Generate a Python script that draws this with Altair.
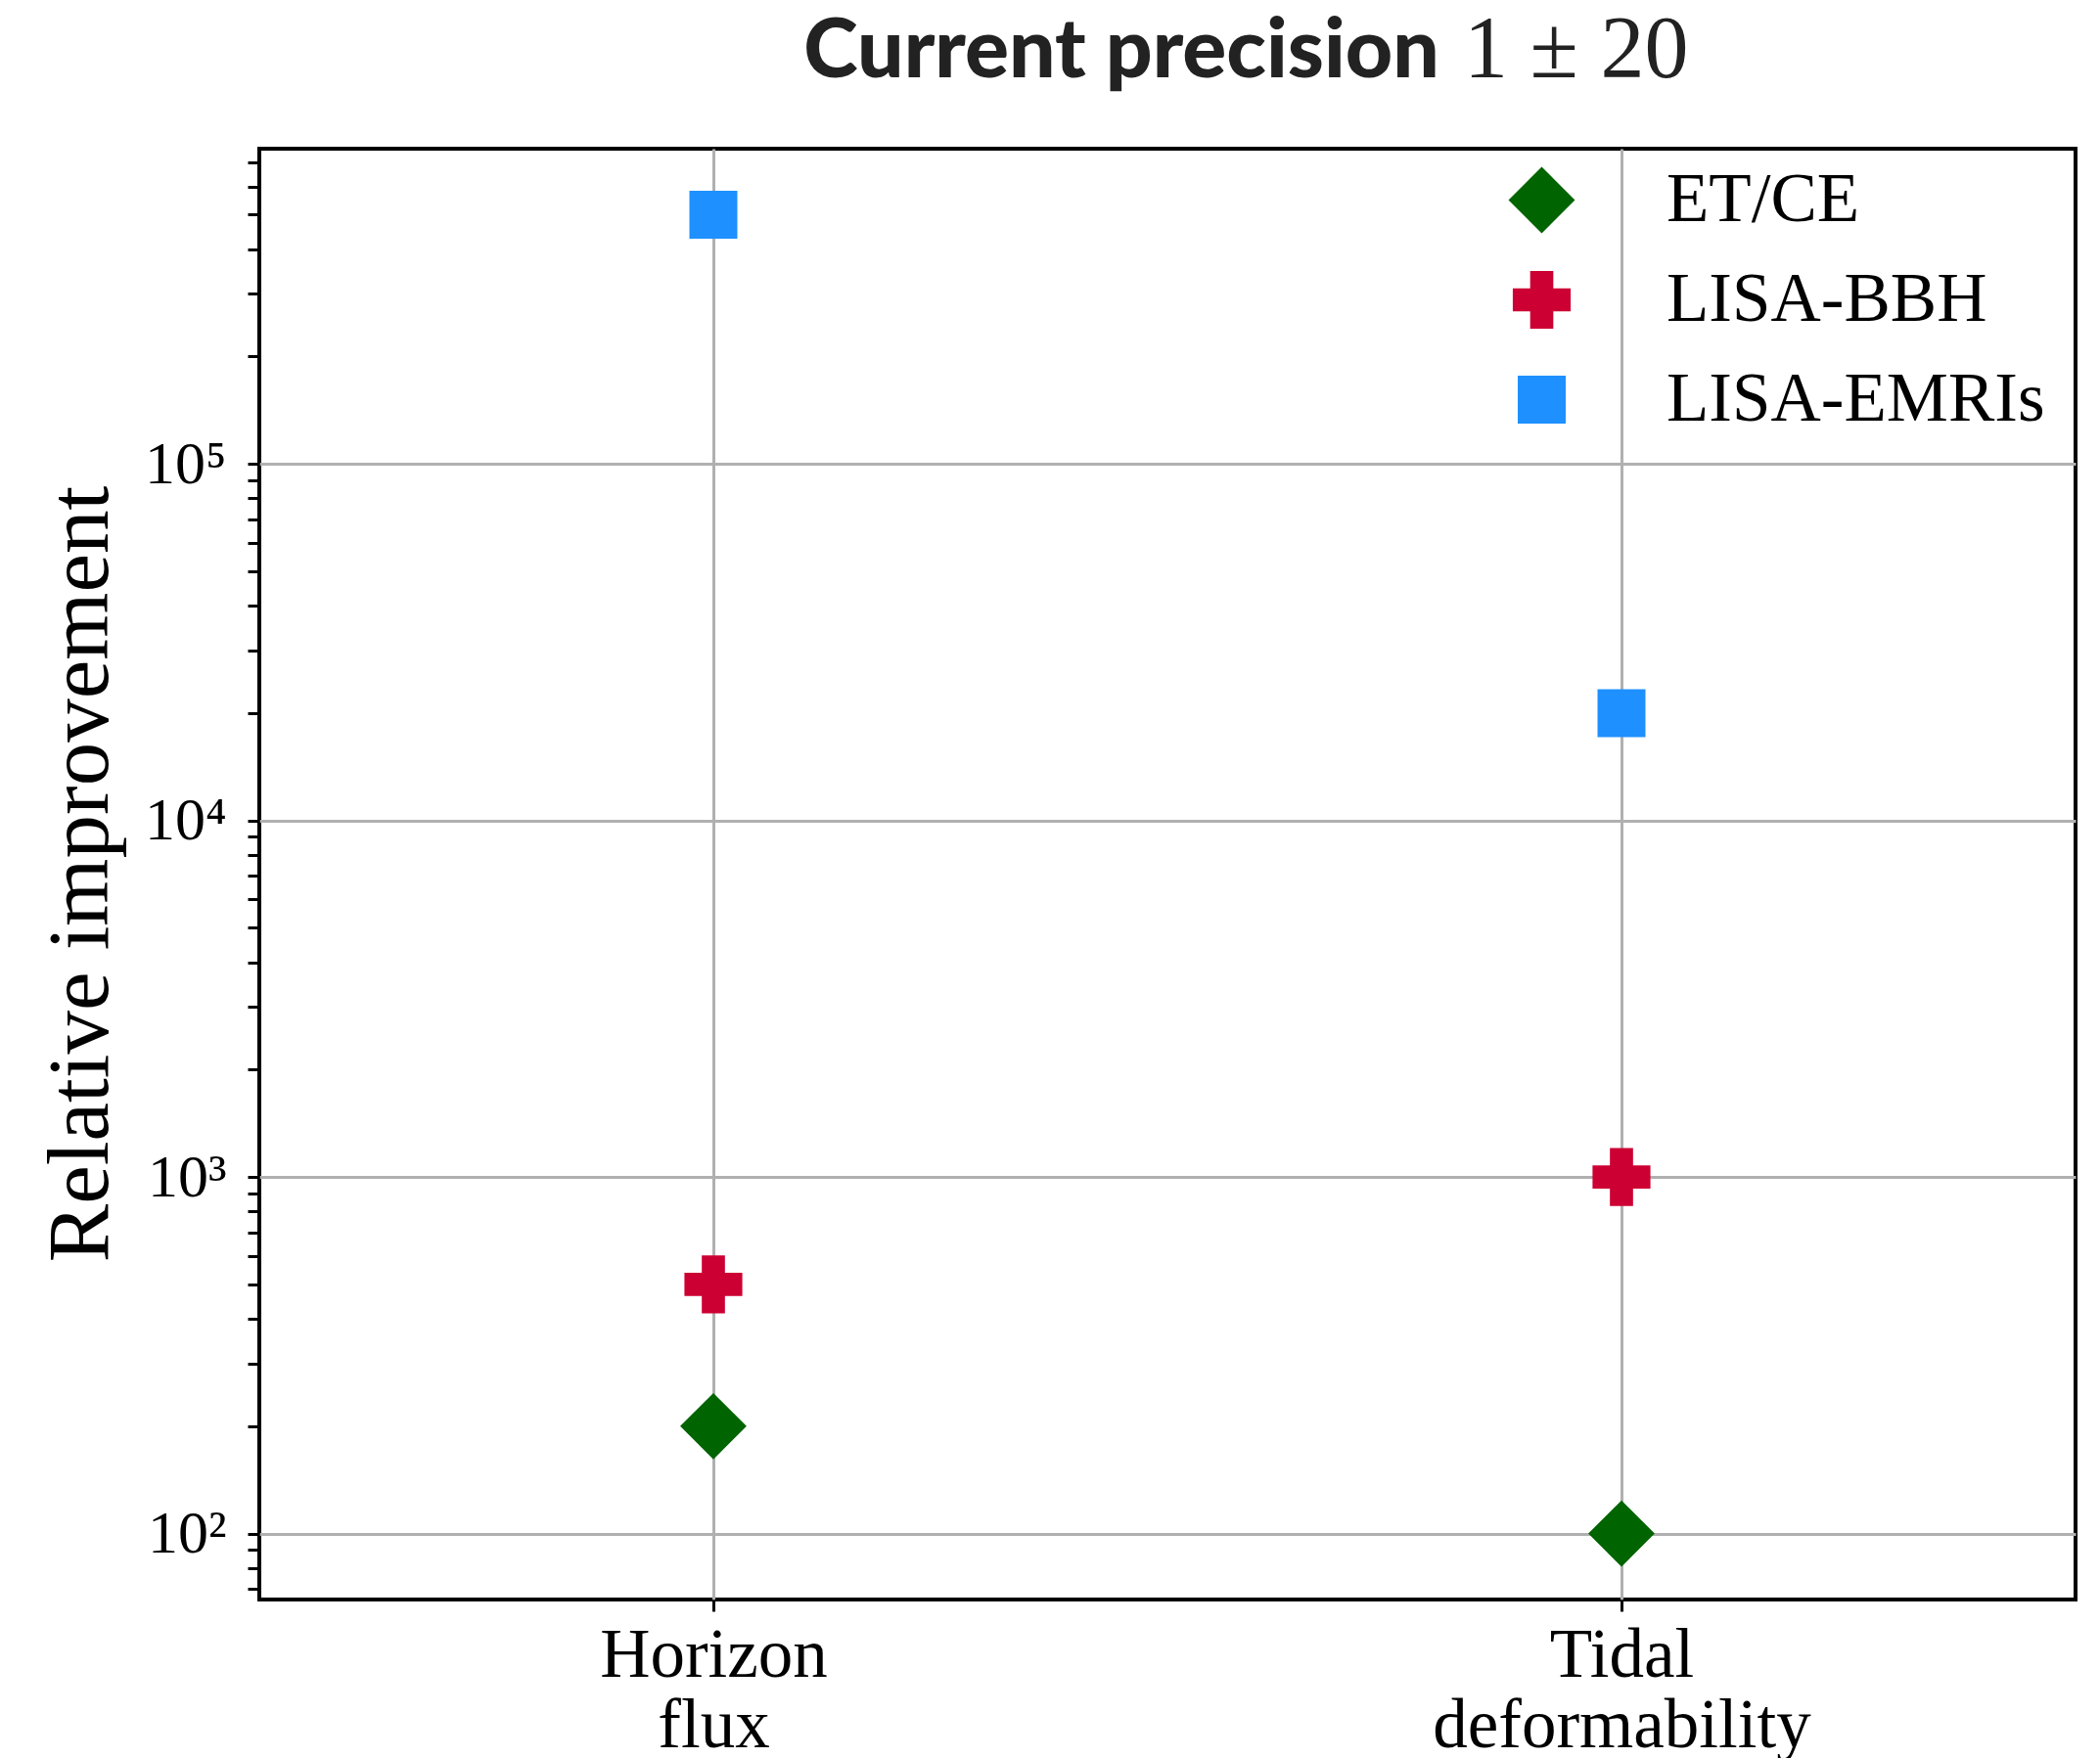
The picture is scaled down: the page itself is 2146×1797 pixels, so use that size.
import math
import altair as alt
import pandas as pd

# ---- data ----
categories = ["Horizon flux", "Tidal deformability"]
series = ["ET/CE", "LISA-BBH", "LISA-EMRIs"]
horizon_values = [200, 500, 500000]
tidal_values = [100, 1000, 20000]
colors = ["#006400", "#CC0033", "#1E90FF"]
shapes = ["diamond", "cross", "square"]
sizes = [4600, 2400, 2500]

major_ticks = [100, 1000, 10000, 100000]
major_labels = ["10²", "10³", "10⁴", "10⁵"]
minor_ticks = [70, 80, 90] + [m * 10 ** k for k in range(2, 6) for m in range(1, 10)]
minor_ticks = [t for t in minor_ticks if t <= 700000]

title_main = "Current precision"
title_math = "1 ± 20"
y_title = "Relative improvement"

rows = []
for s, h, t in zip(series, horizon_values, tidal_values):
    rows.append({"category": categories[0], "series": s, "value": h})
    rows.append({"category": categories[1], "series": s, "value": t})
df = pd.DataFrame(rows)

# log axis limits with 5% margins (as matplotlib)
all_vals = horizon_values + tidal_values
lo_l, hi_l = math.log10(min(all_vals)), math.log10(max(all_vals))
m = 0.05 * (hi_l - lo_l)
y_domain = [10 ** (lo_l - m), 10 ** (hi_l + m)]

SERIF = "Liberation Serif"

label_expr = " : ".join(
    f"datum.value == {v} ? '{l}'" for v, l in zip(major_ticks, major_labels)
) + " : ''"
grid_test = " || ".join(f"datum.value == {v}" for v in major_ticks)

legend = alt.Legend(
    title=None,
    orient="none",
    legendX=1275,
    legendY=17,
    labelFont=SERIF,
    labelFontSize=71,
    labelColor="black",
    labelOffset=92,
    labelLimit=0,
    rowPadding=30,
    symbolStrokeWidth=0,
    symbolOpacity=1,
    padding=0,
)

points = alt.Chart(df).mark_point(filled=True, opacity=1, strokeWidth=0).encode(
    x=alt.X(
        "category:N",
        sort=categories,
        scale=alt.Scale(type="point", domain=categories, padding=0.5),
        axis=alt.Axis(
            title=None,
            labelExpr="split(datum.label, ' ')",
            labelFont=SERIF,
            labelFontSize=71,
            labelLineHeight=72,
            labelAngle=0,
            labelColor="black",
            labelPadding=10,
            labelBaseline="top",
            labelLimit=0,
            tickColor="black",
            tickWidth=3,
            tickSize=12,
            grid=True,
            gridColor="#b0b0b0",
            gridWidth=3,
            domain=False,
        ),
    ),
    y=alt.Y(
        "value:Q",
        scale=alt.Scale(type="log", domain=y_domain, nice=False, zero=False),
        axis=alt.Axis(
            values=minor_ticks,
            labelExpr=label_expr,
            labelFont=SERIF,
            labelFontSize=62,
            labelColor="black",
            labelPadding=22,
            labelOverlap=False,
            labelFlush=False,
            labelLimit=0,
            tickColor="black",
            tickWidth=3,
            tickSize=12,
            grid=True,
            gridColor="#b0b0b0",
            gridWidth=3,
            gridOpacity={"condition": {"test": grid_test, "value": 1}, "value": 0},
            domain=False,
            title=y_title,
            titleFont=SERIF,
            titleFontSize=89,
            titleFontWeight="normal",
            titleColor="black",
            titleAngle=270,
            titleBaseline="alphabetic",
            titleAlign="center",
            titleX=-156,
            titleY=741,
            titleLimit=0,
        ),
    ),
    color=alt.Color("series:N", scale=alt.Scale(domain=series, range=colors), legend=legend),
    shape=alt.Shape("series:N", scale=alt.Scale(domain=series, range=shapes), legend=legend),
    size=alt.Size("series:N", scale=alt.Scale(domain=series, range=sizes), legend=legend),
)

t1 = alt.Chart(pd.DataFrame({"t": [title_main]})).mark_text(
    font="Lato", fontWeight=900, fontSize=84, color="#222222",
    align="right", baseline="alphabetic",
).encode(text="t:N", x=alt.value(1206), y=alt.value(-73))

t2 = alt.Chart(pd.DataFrame({"t": [title_math]})).mark_text(
    font=SERIF, fontSize=90, color="#222222",
    align="left", baseline="alphabetic",
).encode(text="t:N", x=alt.value(1231), y=alt.value(-73))

chart = alt.layer(points, t1, t2).properties(
    width=1856,
    height=1483,
    background="white",
    autosize=alt.AutoSizeParams(type="none"),
    padding={"left": 265, "top": 152, "right": 25, "bottom": 162},
).configure_view(stroke="black", strokeWidth=4)

chart.save("out.html", embed_options={"renderer": "svg", "actions": False})
